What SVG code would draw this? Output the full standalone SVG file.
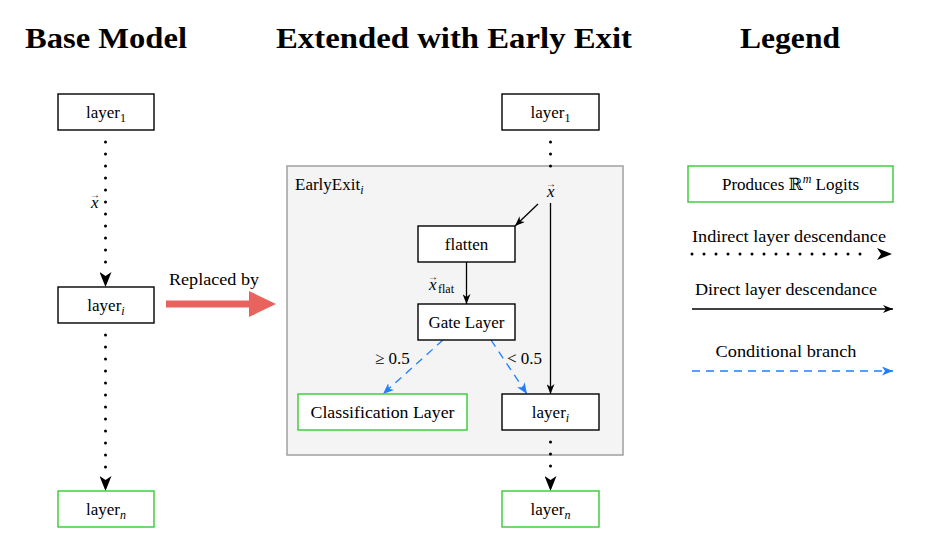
<svg xmlns="http://www.w3.org/2000/svg" width="936" height="553" viewBox="0 0 936 553">
<defs>
<style>
text{font-family:"Liberation Serif","DejaVu Serif",serif;fill:#000}
.t{font-size:29px;font-weight:bold}
.b{font-size:17px}
.s{font-size:12px}
.it{font-style:italic}
.ar{font-size:10px;font-style:normal}
.box{fill:#fff;stroke:#000;stroke-width:1.4}
.gbox{fill:#fff;stroke:#33cc33;stroke-width:1.4}
.dot{fill:none;stroke:#000;stroke-width:3;stroke-linecap:round;stroke-dasharray:0 12}
.solid{fill:none;stroke:#000;stroke-width:1.3}
.dash{fill:none;stroke:#1f7fff;stroke-width:1.3;stroke-dasharray:8 6}
</style>
<marker id="big" markerUnits="userSpaceOnUse" viewBox="0 0 15 12" refX="15" refY="6" markerWidth="15" markerHeight="12" orient="auto">
<path d="M0,0 L15,6 L0,12 L4,6 z" fill="#000"/>
</marker>
<marker id="sm" markerUnits="userSpaceOnUse" viewBox="0 0 10 8" refX="10" refY="4" markerWidth="10" markerHeight="8" orient="auto">
<path d="M0,0 L10,4 L0,8 L3,4 z" fill="#000"/>
</marker>
<marker id="bl" markerUnits="userSpaceOnUse" viewBox="0 0 11 9" refX="11" refY="4.5" markerWidth="11" markerHeight="9" orient="auto">
<path d="M0,0 L11,4.5 L0,9 L3,4.5 z" fill="#1f7fff"/>
</marker>
</defs>
<rect width="936" height="553" fill="#fff"/>

<text class="t" x="25" y="48" textLength="162" lengthAdjust="spacingAndGlyphs">Base Model</text>
<text class="t" x="276" y="48" textLength="356" lengthAdjust="spacingAndGlyphs">Extended with Early Exit</text>
<text class="t" x="740" y="48" textLength="100" lengthAdjust="spacingAndGlyphs">Legend</text>

<g id="earlyexit-container">
<rect x="287" y="166" width="336" height="289" fill="#f4f4f4" stroke="#a0a0a0" stroke-width="1.5"/>
<text class="b" x="295" y="190">EarlyExit<tspan class="s it" dy="4">i</tspan></text>
</g>

<g id="connectors">
<line class="dot" x1="105.5" y1="142" x2="105.5" y2="270"/>
<line x1="105.5" y1="272" x2="105.5" y2="287" stroke="#000" stroke-width="0.01" marker-end="url(#big)"/>
<line class="dot" x1="105.5" y1="335" x2="105.5" y2="475"/>
<line x1="105.5" y1="476" x2="105.5" y2="491" stroke="#000" stroke-width="0.01" marker-end="url(#big)"/>
<line class="dot" x1="550.5" y1="142" x2="550.5" y2="178"/>
<line class="solid" x1="550.5" y1="203" x2="550.5" y2="394" marker-end="url(#sm)"/>
<line class="solid" x1="538" y1="204" x2="515" y2="226" marker-end="url(#sm)"/>
<line class="solid" x1="466.5" y1="262" x2="466.5" y2="304" marker-end="url(#sm)"/>
<line class="dash" x1="443" y1="340" x2="383" y2="394" marker-end="url(#bl)"/>
<line class="dash" x1="491" y1="340" x2="527" y2="394" marker-end="url(#bl)"/>
<line class="dot" x1="550.5" y1="442" x2="550.5" y2="478"/>
<line x1="550.5" y1="477" x2="550.5" y2="491" stroke="#000" stroke-width="0.01" marker-end="url(#big)"/>
<path d="M166,304 L252,304" stroke="#e8625e" stroke-width="7" fill="none"/>
<path d="M249,291 L276,304 L249,317 z" fill="#e8625e"/>
</g>

<g id="labels">
<text class="b" x="90" y="208"><tspan class="it">x</tspan><tspan class="ar" dx="-8.5" dy="-10">→</tspan></text>
<text class="b" x="169" y="285" textLength="90" lengthAdjust="spacingAndGlyphs">Replaced by</text>
<text class="b" x="546" y="197"><tspan class="it">x</tspan><tspan class="ar" dx="-8.5" dy="-10">→</tspan></text>
<text class="b" x="428" y="290"><tspan class="it">x</tspan><tspan class="ar" dx="-8.5" dy="-10">→</tspan><tspan class="s" dx="0" dy="13">flat</tspan></text>
<text class="b" x="375" y="364">≥ 0.5</text>
<text class="b" x="507" y="364">&lt; 0.5</text>
</g>

<g id="base-layer1">
<rect class="box" x="58" y="94" width="96" height="36"/>
<text class="b" x="106" y="118" text-anchor="middle">layer<tspan class="s" dy="4">1</tspan></text>
</g>
<g id="base-layeri">
<rect class="box" x="58" y="287" width="96" height="36"/>
<text class="b" x="106" y="311" text-anchor="middle">layer<tspan class="s it" dy="4">i</tspan></text>
</g>
<g id="base-layern">
<rect class="gbox" x="58" y="491" width="96" height="36"/>
<text class="b" x="106" y="515" text-anchor="middle">layer<tspan class="s it" dy="4">n</tspan></text>
</g>

<g id="ext-layer1">
<rect class="box" x="502" y="94" width="97" height="36"/>
<text class="b" x="550.5" y="118" text-anchor="middle">layer<tspan class="s" dy="4">1</tspan></text>
</g>
<g id="flatten">
<rect class="box" x="418" y="226" width="97" height="36"/>
<text class="b" x="466.5" y="250" text-anchor="middle">flatten</text>
</g>
<g id="gate-layer">
<rect class="box" x="418" y="304" width="97" height="36"/>
<text class="b" x="466.5" y="328" text-anchor="middle">Gate Layer</text>
</g>
<g id="classification-layer">
<rect class="gbox" x="298" y="394" width="169" height="36"/>
<text class="b" x="382.5" y="418" text-anchor="middle" textLength="144" lengthAdjust="spacingAndGlyphs">Classification Layer</text>
</g>
<g id="ext-layeri">
<rect class="box" x="502" y="394" width="97" height="36"/>
<text class="b" x="550.5" y="418" text-anchor="middle">layer<tspan class="s it" dy="4">i</tspan></text>
</g>
<g id="ext-layern">
<rect class="gbox" x="502" y="491" width="97" height="36"/>
<text class="b" x="550.5" y="515" text-anchor="middle">layer<tspan class="s it" dy="4">n</tspan></text>
</g>

<g id="legend">
<rect class="gbox" x="688" y="166" width="205" height="36"/>
<text class="b" x="790.5" y="190" text-anchor="middle">Produces <tspan style="font-family:'DejaVu Serif',serif">ℝ</tspan><tspan class="s it" dy="-7">m</tspan><tspan dy="7"> Logits</tspan></text>
<text class="b" x="789" y="242" text-anchor="middle" textLength="194" lengthAdjust="spacingAndGlyphs">Indirect layer descendance</text>
<line class="dot" x1="692" y1="254" x2="870" y2="254"/>
<line x1="877" y1="254" x2="892" y2="254" stroke="#000" stroke-width="0.01" marker-end="url(#big)"/>
<text class="b" x="786" y="295" text-anchor="middle" textLength="182" lengthAdjust="spacingAndGlyphs">Direct layer descendance</text>
<line class="solid" x1="692" y1="309" x2="893" y2="309" marker-end="url(#sm)"/>
<text class="b" x="786" y="357" text-anchor="middle" textLength="141" lengthAdjust="spacingAndGlyphs">Conditional branch</text>
<line class="dash" x1="692" y1="371" x2="893" y2="371" marker-end="url(#bl)"/>
</g>
</svg>
